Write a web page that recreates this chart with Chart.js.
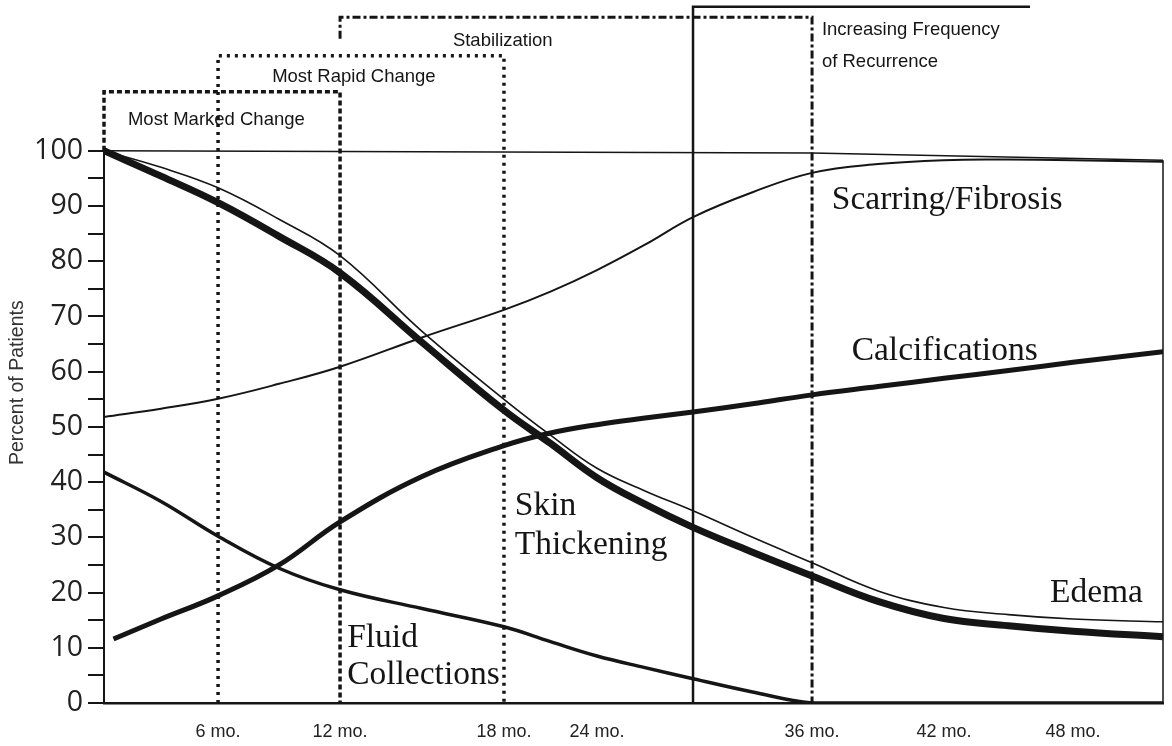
<!DOCTYPE html>
<html>
<head>
<meta charset="utf-8">
<title>Percent of Patients</title>
<script src="https://cdn.jsdelivr.net/npm/chart.js@4.4.1/dist/chart.umd.min.js"></script>
<style>
  html, body { margin: 0; padding: 0; background: #fff; }
  canvas { display: block; }
</style>
</head>
<body>
<canvas id="lineChart" width="1172" height="746"></canvas>
<script>
// months after treatment (x values of the sampled points)
const months     = [0,   3,    6,    9,    12,   15,   18,   21,   24,   27,   30,   33,   36,   39,   42,   45,   48,   52];
const calcMonths = [0.5, 3,    6,    9,    12,   15,   18,   21,   24,   27,   30,   33,   36,   39,   42,   45,   48,   52];

// percent of patients
const edema      = [100, 97,   93.3, 87.6, 81,   67.3, 55,   48.5, 42.5, 38.4, 34.8, 30,   25.4, 20.3, 17.3, 16,   15.2, 14.7];
const skin       = [100, 95.4, 90.6, 84.5, 77.9, 65.3, 53,   47,   40.8, 36,   31.8, 27.3, 23,   18.4, 15.3, 14,   13,   12];
const scarring   = [51.8, 53.3, 55.1, 57.8, 60.9, 66.2, 71.2, 74.5, 78.4, 83, 88,   92.5, 96,   97.6, 98.3, 98.4, 98.3, 98];
const calcs      = [11.6, 15.2, 19.4, 25,  32.8, 41,   46.6, 48.9, 50.4, 51.6, 52.7, 54.2, 55.8, 57.3, 58.8, 60.2, 61.7, 63.6];
const fluid      = [41.8, 36.5, 30.2, 24.4, 20.5, 17.1, 13.8, 11.1, 8.5, 6.4,  4.4,  2,    0,    0,    0,    0,    0,    0];

// x axis labels
const tickMonths = [6, 12, 18, 24, 36, 42, 48];

// phases drawn as brackets above the plot
const phaseFrom      = [0,     6,     12,    30];
const phaseTo        = [12,    18,    36,    46];
const phaseTop       = [110.7, 117.2, 124.2, 126.1];
const phaseLeftFoot  = [100,   0,     120.3, 0];
const phaseRightFoot = [0,     0,     0,     null];

// the hand drawn time axis is not evenly spaced: month -> fraction of axis
const warpMonths = [0, 6,      12,     18,     24,     30,     36,     42,     48,    52];
const warpFrac   = [0, 0.1077, 0.2229, 0.3777, 0.4655, 0.5562, 0.6686, 0.7932, 0.915, 1];

const ink = '#151515';

function interp(v, xs, ys) {
    let i = 1;
    while (i < xs.length - 1 && v > xs[i]) i++;
    const t = (v - xs[i - 1]) / (xs[i] - xs[i - 1]);
    return ys[i - 1] + t * (ys[i] - ys[i - 1]);
}

class WarpScale extends Chart.LinearScale {
    static id = 'warp';
    getPixelForValue(value) {
        return this.getPixelForDecimal(interp(value, warpMonths, warpFrac));
    }
    getValueForPixel(pixel) {
        return interp(this.getDecimalForPixel(pixel), warpFrac, warpMonths);
    }
}
Chart.register(WarpScale);

function pts(xs, ys) {
    return xs.map(function(x, i) { return {x: x, y: ys[i]}; });
}

function curve(label, xs, ys, width) {
    return {
        label: label,
        data: pts(xs, ys),
        borderColor: ink,
        borderWidth: width,
        pointRadius: 0,
        fill: false,
        tension: 0.4,
        borderCapStyle: 'butt'
    };
}

function rule(label, data, width, dash) {
    return {
        label: label,
        data: data,
        borderColor: ink,
        borderWidth: width,
        borderDash: dash || [],
        pointRadius: 0,
        fill: false,
        tension: 0,
        clip: false,
        borderJoinStyle: 'miter'
    };
}

const phaseDash  = [[5, 3], [3, 5], [8, 3, 3, 3], []];
const phaseWidth = [3.5, 3.5, 3, 2.5];

let brackets = phaseFrom.map(function(from, i) {
    let path = [
        {x: from, y: phaseLeftFoot[i]},
        {x: from, y: phaseTop[i]},
        {x: phaseTo[i], y: phaseTop[i]}
    ];
    if (phaseRightFoot[i] !== null) path.push({x: phaseTo[i], y: phaseRightFoot[i]});
    return rule('phase ' + i, path, phaseWidth[i], phaseDash[i]);
});

let frame = [
    rule('axis', [{x: 0, y: 0}, {x: 0, y: 100}], 2),
    rule('top', [{x: 0, y: 100}, {x: 36, y: 99.6}, {x: 52, y: 98.3}], 1.5),
    rule('right', [{x: 52, y: 98.3}, {x: 52, y: 0}], 1.5)
];

const sans = '18.5px "Liberation Sans"';
const serif = '33.5px "Liberation Serif"';

// text written on the figure, anchored at baseline-left in data units
const notes = [
    {text: 'Most Marked Change', month: 1.26, pct: 104.7, font: sans},
    {text: 'Most Rapid Change', month: 8.66, pct: 112.5, font: sans},
    {text: 'Stabilization', month: 16.13, pct: 119.0, font: sans},
    {text: 'Increasing Frequency', month: 36.45, pct: 121.0, font: sans},
    {text: 'of Recurrence', month: 36.45, pct: 115.2, font: sans},
    {text: 'Scarring/Fibrosis', month: 36.9, pct: 89.5, font: serif},
    {text: 'Calcifications', month: 37.8, pct: 62.1, font: serif},
    {text: 'Skin', month: 18.7, pct: 34.1, font: serif},
    {text: 'Thickening', month: 18.7, pct: 27.0, font: serif},
    {text: 'Fluid', month: 12.26, pct: 10.1, font: serif},
    {text: 'Collections', month: 12.26, pct: 3.4, font: serif},
    {text: 'Edema', month: 46.93, pct: 18.3, font: serif}
];

const notesPlugin = {
    id: 'notes',
    afterDatasetsDraw(chart) {
        const ctx = chart.ctx;
        const x = chart.scales.x, y = chart.scales.y;
        ctx.save();
        ctx.fillStyle = ink;
        ctx.textAlign = 'left';
        ctx.textBaseline = 'alphabetic';
        notes.forEach(function(n) {
            ctx.font = n.font;
            ctx.fillText(n.text, x.getPixelForValue(n.month), y.getPixelForValue(n.pct));
        });
        // y axis title
        ctx.translate(y.left + 18, y.getPixelForValue(58));
        ctx.rotate(-Math.PI / 2);
        ctx.textAlign = 'center';
        ctx.textBaseline = 'middle';
        ctx.font = '19.5px "Liberation Sans"';
        ctx.fillStyle = '#333';
        ctx.fillText('Percent of Patients', 0, 0);
        ctx.restore();
    }
};

let datasets = [
    curve('Edema', months, edema, 1.6),
    curve('Skin Thickening', months, skin, 7),
    curve('Scarring/Fibrosis', months, scarring, 2),
    curve('Calcifications', calcMonths, calcs, 5),
    curve('Fluid Collections', months, fluid, 3.5)
].concat(frame, brackets);

var lineChart = new Chart(document.getElementById('lineChart'), {
    type: 'line',
    data: { datasets: datasets },
    options: {
        responsive: false,
        animation: false,
        layout: { padding: { top: 5, right: 9, left: 0, bottom: 0 } },
        plugins: {
            legend: { display: false },
            tooltip: { enabled: false }
        },
        scales: {
            x: {
                type: 'warp',
                min: 0,
                max: 52,
                grid: { display: false, drawTicks: false },
                border: { display: true, color: ink, width: 2.5 },
                afterBuildTicks: function(scale) {
                    scale.ticks = tickMonths.map(function(m) { return {value: m}; });
                },
                afterFit: function(scale) {
                    scale.height = 43;
                    scale.paddingLeft = 0;
                    scale.paddingRight = 0;
                },
                ticks: {
                    autoSkip: false,
                    maxRotation: 0,
                    padding: 18,
                    color: '#222',
                    font: { family: 'Liberation Sans', size: 18 },
                    callback: function(v) { return v + ' mo.'; }
                }
            },
            y: {
                type: 'linear',
                min: 0,
                max: 126.4,
                grid: { display: true, drawOnChartArea: false, drawTicks: true, tickLength: 16, color: ink, lineWidth: 2 },
                border: { display: false },
                afterBuildTicks: function(scale) {
                    let t = [];
                    for (let v = 0; v <= 100; v += 5) t.push({value: v});
                    scale.ticks = t;
                },
                afterFit: function(scale) {
                    scale.width = 104;
                    scale.paddingTop = 0;
                    scale.paddingBottom = 0;
                },
                ticks: {
                    autoSkip: false,
                    padding: 5,
                    color: '#222',
                    font: { family: 'Open Sans', size: 28.5 },
                    callback: function(v) { return v % 10 === 0 ? String(v) : ''; }
                }
            }
        }
    },
    plugins: [notesPlugin]
});
</script>
</body>
</html>
